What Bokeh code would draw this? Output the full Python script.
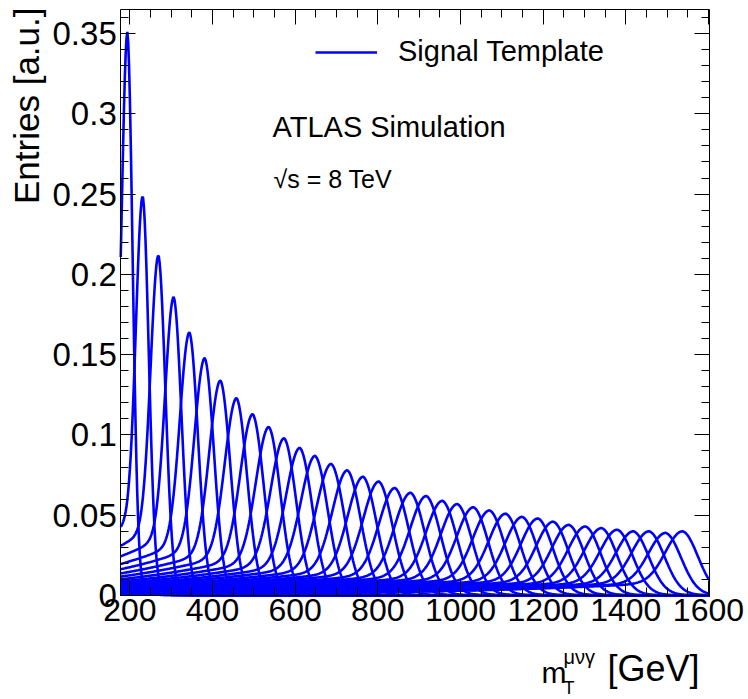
import numpy as np
from bokeh.plotting import figure
from bokeh.models import (Range1d, LinearAxis, SingleIntervalTicker, Label, Legend,
                          LegendItem, CustomJSTickFormatter)
from bokeh.embed import file_html
from bokeh.resources import INLINE

# ---- data (peak position [GeV], peak height [a.u.]) ----
peak_mass = [194, 231, 269, 306, 344, 381, 419, 458, 497, 536, 573, 611,
             648, 687, 726, 764, 802, 841, 879, 917, 956, 992, 1031, 1070,
             1109, 1149, 1187, 1224, 1262, 1302, 1341, 1379, 1418, 1456, 1496, 1537]
peak_height = [0.351, 0.249, 0.212, 0.186, 0.164, 0.148, 0.134, 0.123, 0.113, 0.105,
               0.098, 0.092, 0.087, 0.082, 0.078, 0.074, 0.071, 0.067, 0.064, 0.062,
               0.059, 0.057, 0.055, 0.053, 0.051, 0.049, 0.048, 0.046, 0.044, 0.043,
               0.042, 0.041, 0.040, 0.040, 0.039, 0.040]
x_lo, x_hi = 178, 1602
y_lo, y_hi = 0.0, 0.365

# template shape parameters: core width saturating with mass, long low tails
W_MAX, W_SCALE = 80.0, 560.0
FRAC_L = 0.52
F_LTAIL, L_LTAIL = 0.22, 12.0
F_RTAIL, L_RTAIL = 0.07, 1.5

xs_grid = np.arange(x_lo, x_hi + 1.0, 2.0)


def template(x, m, h):
    s_tot = W_MAX * np.tanh(m / W_SCALE)
    sl = FRAC_L * s_tot
    sr = (1 - FRAC_L) * s_tot
    u = np.clip((m - x) / sl, 0, None)
    v = np.clip((x - m) / sr, 0, None)
    left = (1 - F_LTAIL) * np.exp(-0.5 * u ** 2) + F_LTAIL * np.exp(-u / L_LTAIL)
    right = (1 - F_RTAIL) * np.exp(-0.5 * v ** 2) + F_RTAIL * np.exp(-v / L_RTAIL)
    return h * np.where(x < m, left, right)


W, H = 748, 699
# the frame covers the whole canvas; axes are placed at fixed locations
p = figure(width=W, height=H, x_range=Range1d(-112.95, 1696.9),
           y_range=Range1d(-0.06477, 0.37055),
           output_backend="svg", toolbar_location=None, min_border=0,
           x_axis_location=None, y_axis_location=None)
p.grid.visible = False
p.background_fill_color = "white"
p.border_fill_color = "white"
p.outline_line_color = None

renderers = []
for m, h in zip(peak_mass, peak_height):
    r = p.line(xs_grid, template(xs_grid, m, h), line_color="#0000ff", line_width=2.6)
    renderers.append(r)

FONT = "Liberation Sans"


def make_axis(interval, minor, loc, bounds, fs, show):
    ax = LinearAxis(ticker=SingleIntervalTicker(interval=interval, num_minor_ticks=minor),
                    fixed_location=loc, bounds=bounds)
    ax.major_tick_in = 15
    ax.major_tick_out = 0
    ax.minor_tick_in = 8
    ax.minor_tick_out = 0
    ax.axis_line_color = "black"
    ax.major_tick_line_color = "black"
    ax.minor_tick_line_color = "black"
    ax.major_label_text_font = FONT
    ax.major_label_text_font_size = fs
    ax.major_label_text_color = "black" if show else None
    return ax


xb = make_axis(200, 4, y_lo, (x_lo, x_hi), "32px", True)
xb.major_label_standoff = 4
yl = make_axis(0.05, 5, x_lo, (y_lo, y_hi), "33px", True)
yl.major_label_standoff = 4
yl.formatter = CustomJSTickFormatter(code="return (Math.round(tick*100)/100).toString();")
xt = make_axis(200, 4, y_hi, (x_lo, x_hi), "10px", False)
yr = make_axis(0.05, 5, x_hi, (y_lo, y_hi), "10px", False)
p.add_layout(xb, "below")
p.add_layout(yl, "left")
p.add_layout(xt, "above")
p.add_layout(yr, "right")

# legend
leg = Legend(items=[LegendItem(label="Signal Template", renderers=[renderers[0]])],
             location=(315, H - 68), padding=0, margin=0, spacing=0,
             glyph_width=62, glyph_height=30, label_height=30, label_standoff=21,
             label_text_font=FONT, label_text_font_size="29px", label_text_color="black",
             border_line_alpha=0, background_fill_alpha=0)
p.add_layout(leg)


# texts in canvas pixels (x from left, y from bottom)
def lab(text, x, y, size, **kw):
    p.add_layout(Label(text=text, x=x, y=H - y, x_units="screen", y_units="screen",
                       text_font=FONT, text_font_size=size, text_color="black", **kw))


lab("ATLAS Simulation", 272, 142, "29px")
lab("√s = 8 TeV", 273, 192, "25px")
lab("Entries [a.u.]", 45, 7, "35px", angle=np.pi / 2, text_align="right")
lab("m", 541, 688, "30px")
lab("T", 563, 697, "18px")
lab("μνγ", 563, 667, "20px")
lab("[GeV]", 607, 688, "36px")

open("out.html", "w").write(file_html(p, INLINE))
